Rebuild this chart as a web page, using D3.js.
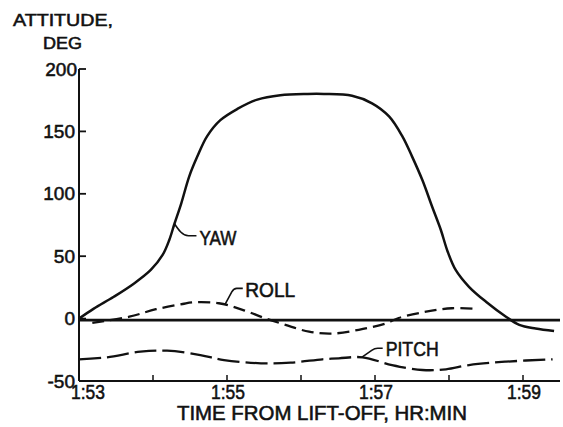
<!DOCTYPE html>
<html>
<head>
<meta charset="utf-8">
<script src="https://cdn.jsdelivr.net/npm/d3@7"></script>
<style>
  html, body { margin: 0; padding: 0; background: #fff; }
  svg { display: block; }
  text { font-family: "Liberation Sans", Arial, sans-serif; fill: #111; stroke: #111; stroke-width: 0.55px; }
</style>
</head>
<body>
<svg id="chart" width="563" height="427"></svg>
<script>
// ---- data (time in minutes past 1:00, attitude in degrees) ----
const yawTime  = [53, 53.2, 53.47, 53.74, 53.97, 54.13, 54.22, 54.29, 54.38, 54.49, 54.6, 54.73, 54.91, 55.14, 55.41, 55.72, 56.09, 56.31, 56.69, 56.96, 57.19, 57.37, 57.5, 57.64, 57.77, 57.89, 57.98, 58.09, 58.27, 58.5, 58.77, 58.95, 59.17, 59.42];
const yawValue = [0, 8, 17.5, 28, 39, 51, 63, 76, 92, 114, 130, 146, 159, 168, 175.5, 179, 180, 180, 178.5, 172.5, 162, 146, 130, 111, 90, 71, 54, 39, 25.5, 13.5, 1.5, -5, -8, -10];

const rollTime  = [53.18, 53.68, 54.04, 54.4, 54.53, 54.89, 55.21, 55.52, 55.79, 56.11, 56.42, 56.78, 57.14, 57.32, 57.69, 58.04, 58.38];
const rollValue = [-3.5, 1.5, 7.5, 11.7, 13, 12.3, 7, 0.2, -5, -10.5, -12, -9, -4, 0.5, 5.5, 8.3, 7.7];

const pitchTime  = [53, 53.38, 53.83, 54.19, 54.64, 54.96, 55.46, 55.86, 56.29, 56.51, 56.83, 57.23, 57.64, 57.96, 58.27, 58.77, 59.4];
const pitchValue = [-32.6, -31, -26.5, -25.7, -29.2, -33.2, -35.8, -35.3, -32.6, -31.8, -31, -37.2, -41.2, -40.6, -37.2, -34.5, -32.6];

const yTicks = [200, 150, 100, 50, 0, -50];
const yTickLabels = ["200", "150", "100", "50", "0", "-50"];
const xTicks = [53, 54, 55, 56, 57, 58, 59];
const xLabelTicks = [53, 55, 57, 59];
const xTickLabels = ["1:53", "1:55", "1:57", "1:59"];
const seriesNames = ["YAW", "ROLL", "PITCH"];
const labelAnchorTimes = [54.29, 54.97, 56.82];

// ---- scales ----
const x = d3.scaleLinear().domain([53, 59.5]).range([79, 560]);
const y = d3.scaleLinear().domain([-50, 200]).range([381, 69]);

const svg = d3.select("#chart");
const ink = "#111";

// axes
const g = svg.append("g");
g.append("line").attr("x1", x(53)).attr("x2", x(53)).attr("y1", y(200)).attr("y2", y(-50))
  .attr("stroke", ink).attr("stroke-width", 2);
g.append("line").attr("x1", x(53)).attr("x2", x(59.5)).attr("y1", y(-50)).attr("y2", y(-50))
  .attr("stroke", ink).attr("stroke-width", 2);

// y ticks (inward)
g.selectAll(".ytick").data(yTicks).enter().append("line")
  .attr("x1", x(53)).attr("x2", x(53) + 7)
  .attr("y1", d => y(d)).attr("y2", d => y(d))
  .attr("stroke", ink).attr("stroke-width", 1.8);
g.selectAll(".ylab").data(yTicks).enter().append("text")
  .attr("x", d => x(53) - (d === 200 ? 2 : 4)).attr("y", d => y(d) + 6.5)
  .attr("text-anchor", "end").attr("font-size", 19)
  .text((d, i) => yTickLabels[i]);

// x ticks (inward)
g.selectAll(".xtick").data(xTicks.slice(1)).enter().append("line")
  .attr("x1", d => x(d)).attr("x2", d => x(d))
  .attr("y1", y(-50)).attr("y2", y(-50) - 6)
  .attr("stroke", ink).attr("stroke-width", 1.5);
g.selectAll(".xlab").data(xLabelTicks).enter().append("text")
  .attr("x", (d, i) => x(d) + (i === 0 ? 9 : 1)).attr("y", 398.5)
  .attr("text-anchor", "middle").attr("font-size", 19.5)
  .attr("textLength", 34).attr("lengthAdjust", "spacingAndGlyphs")
  .text((d, i) => xTickLabels[i]);

// axis titles
svg.append("text").attr("x", 13).attr("y", 25.5).attr("font-size", 17)
  .attr("textLength", 100).attr("lengthAdjust", "spacingAndGlyphs").text("ATTITUDE,");
svg.append("text").attr("x", 43).attr("y", 48.5).attr("font-size", 16)
  .attr("textLength", 39).attr("lengthAdjust", "spacingAndGlyphs").text("DEG");
svg.append("text").attr("x", 177).attr("y", 420).attr("font-size", 19.5)
  .attr("textLength", 290).attr("lengthAdjust", "spacingAndGlyphs").text("TIME FROM LIFT-OFF, HR:MIN");

// zero reference line
svg.append("line").attr("x1", x(53)).attr("x2", x(59.5)).attr("y1", y(0) + 1.5).attr("y2", y(0) + 1.5)
  .attr("stroke", ink).attr("stroke-width", 2.6);

// series
const line = d3.line().x(d => x(d[0])).y(d => y(d[1])).curve(d3.curveCatmullRom.alpha(0.5));
const series = [
  { t: yawTime, v: yawValue, dash: null, w: 2.5 },
  { t: rollTime, v: rollValue, dash: "12,6", w: 2.3 },
  { t: pitchTime, v: pitchValue, dash: "22,6", w: 2.3 }
];
series.forEach(s => {
  const pts = s.t.map((t, i) => [t, s.v[i]]);
  svg.append("path").attr("d", line(pts)).attr("fill", "none")
    .attr("stroke", ink).attr("stroke-width", s.w)
    .attr("stroke-dasharray", s.dash).attr("stroke-linejoin", "round");
});

// labels with leader lines, anchored on the curves
function valueAt(ts, vs, t) {
  for (let i = 0; i < ts.length - 1; i++) {
    if (t >= ts[i] && t <= ts[i + 1]) {
      const f = (t - ts[i]) / (ts[i + 1] - ts[i]);
      return vs[i] + f * (vs[i + 1] - vs[i]);
    }
  }
  return vs[vs.length - 1];
}
const leaders = [
  { path: "M0,0 C4,6 8,12 14,12 L22,12", dx: 25, dy: 21, w: 37 },
  { path: "M0,0 L7,-13 Q9,-16.5 12,-16.5 L18,-16.5", dx: 20.5, dy: -7.7, w: 50 },
  { path: "M0,0 L10,-7 Q13,-9 16,-9 L21,-9", dx: 24, dy: -1, w: 53 }
];
seriesNames.forEach((name, i) => {
  const s = series[i];
  const at = labelAnchorTimes[i];
  const ax = x(at), ay = y(valueAt(s.t, s.v, at));
  const L = leaders[i];
  const lg = svg.append("g").attr("transform", `translate(${ax},${ay})`);
  lg.append("path").attr("d", L.path).attr("fill", "none").attr("stroke", ink).attr("stroke-width", 1.6);
  lg.append("text").attr("x", L.dx).attr("y", L.dy).attr("font-size", 19.5)
    .attr("textLength", L.w).attr("lengthAdjust", "spacingAndGlyphs").text(name);
});
</script>
</body>
</html>
